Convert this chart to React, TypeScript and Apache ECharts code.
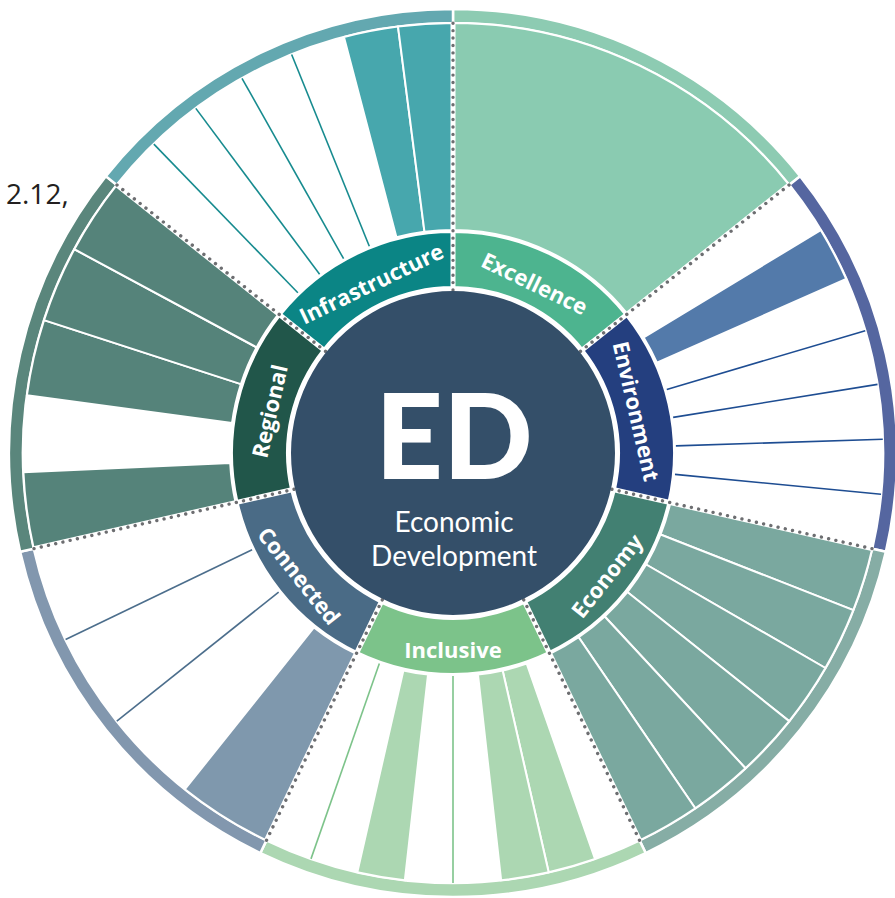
import React, { useEffect, useRef } from 'react';
import * as echarts from 'echarts';

// ---- data ----
const CATEGORIES = ['Excellence', 'Environment', 'Economy', 'Inclusive', 'Connected', 'Regional', 'Infrastructure'];
const EXCELLENCE_VALUES = [100];
const ENVIRONMENT_VALUES = [0, 100, 0, 0, 0, 0, 0];
const ECONOMY_VALUES = [100, 100, 100, 100, 100, 100];
const INCLUSIVE_VALUES = [0, 100, 100, 0, 0, 100, 0, 0];
const CONNECTED_VALUES = [100, 0, 0, 0];
const REGIONAL_VALUES = [100, 0, 100, 100, 100];
const INFRASTRUCTURE_VALUES = [0, 0, 0, 0, 0, 100, 100];
const CENTER_TITLE = 'ED';
const CENTER_SUBTITLE = ['Economic', 'Development'];
const STRAY_LABEL = '2.12,';

// ---- styles ----
const RING_COLORS = ['#4DB48F', '#243F7F', '#428072', '#7CC38A', '#4A6B86', '#21564A', '#0B8585'];
const BAR_COLORS = ['#8ACBB1', '#537AAA', '#7AA89F', '#ACD7B2', '#7F98AD', '#55837A', '#47A7AD'];
const BAND_COLORS = ['#8DCBB2', '#5566A0', '#86ADA5', '#ACD7B2', '#8297AE', '#5A867C', '#63A8B0'];
const LINE_COLORS = ['#4DB48F', '#1E4D92', '#428072', '#7DC38A', '#4C6E8C', '#21564A', '#178B8F'];
const CENTER_COLOR = '#344F69';
const DOT_COLOR = '#6D6E71';
const FONT = '"Open Sans", "Noto Sans", sans-serif';
const CENTER_FONT = 'Lato, "Open Sans", sans-serif';

const CX = 453;
const CY = 453;
const CENTER_R = 162;
const RING_R0 = 165.5;
const RING_R1 = 221.5;
const BAND_R0 = 430;
const BAND_R1 = 444;
const BOUND_R0 = 163;
const BOUND_R1 = 431;

const VALUES = [
  EXCELLENCE_VALUES,
  ENVIRONMENT_VALUES,
  ECONOMY_VALUES,
  INCLUSIVE_VALUES,
  CONNECTED_VALUES,
  REGIONAL_VALUES,
  INFRASTRUCTURE_VALUES,
];

const barData: number[][] = [];
const sepData: number[][] = [];
VALUES.forEach((vals, ci) => {
  const n = vals.length;
  vals.forEach((v, i) => {
    barData.push([v, ci + i / n, ci + (i + 1) / n, ci]);
    if (i > 0 && vals[i - 1] === 0 && v === 0) sepData.push([100, ci + i / n, ci]);
  });
});
const catData = CATEGORIES.map((_, i) => [i]);

function arcShape(params: any, api: any, r0v: number, r1v: number, a0: number, a1: number) {
  const cs = params.coordSys;
  const pi = api.coord([r0v, a0]);
  const ps = api.coord([r1v, a0]);
  const pe = api.coord([r1v, a1]);
  const r0 = Math.hypot(pi[0] - cs.cx, pi[1] - cs.cy);
  const r = Math.hypot(ps[0] - cs.cx, ps[1] - cs.cy);
  const s = Math.atan2(ps[1] - cs.cy, ps[0] - cs.cx);
  let e = Math.atan2(pe[1] - cs.cy, pe[0] - cs.cx);
  while (e <= s + 1e-9) e += Math.PI * 2;
  return { cx: cs.cx, cy: cs.cy, r0, r, startAngle: s, endAngle: e, clockwise: true };
}

const option: any = {
  animation: false,
  backgroundColor: '#ffffff',
  polar: [
    { center: [CX, CY], radius: [223, 430] },
    { center: [CX, CY], radius: [0, 444] },
  ],
  angleAxis: [
    { polarIndex: 0, type: 'value', min: 0, max: 7, startAngle: 90, clockwise: true, show: false },
    { polarIndex: 1, type: 'value', min: 0, max: 7, startAngle: 90, clockwise: true, show: false },
  ],
  radiusAxis: [
    { polarIndex: 0, type: 'value', min: 0, max: 100, show: false },
    { polarIndex: 1, type: 'value', min: 0, max: 444, show: false },
  ],
  series: [
    {
      type: 'custom',
      name: 'band',
      coordinateSystem: 'polar',
      polarIndex: 1,
      z: 1,
      silent: true,
      data: catData,
      renderItem: (params: any, api: any) => {
        const ci = api.value(0);
        return {
          type: 'sector',
          shape: arcShape(params, api, BAND_R0, BAND_R1, ci, ci + 1),
          style: { fill: BAND_COLORS[ci], stroke: '#ffffff', lineWidth: 2.5 },
        };
      },
    },
    {
      type: 'custom',
      name: 'ring',
      coordinateSystem: 'polar',
      polarIndex: 1,
      z: 2,
      silent: true,
      data: catData,
      renderItem: (params: any, api: any) => {
        const ci = api.value(0);
        const cs = params.coordSys;
        const probe = api.coord([193, ci + 0.5]);
        const dx = probe[0] - cs.cx;
        const dy = probe[1] - cs.cy;
        const top = dy < 0;
        const tr = top ? 189 : 196;
        const p = api.coord([tr, ci + 0.5]);
        const phi = Math.atan2(dy, dx);
        const psi = top ? phi + Math.PI / 2 : phi - Math.PI / 2;
        return {
          type: 'group',
          children: [
            {
              type: 'sector',
              shape: arcShape(params, api, RING_R0, RING_R1, ci, ci + 1),
              style: { fill: RING_COLORS[ci], stroke: '#ffffff', lineWidth: 3 },
            },
            {
              type: 'text',
              x: p[0],
              y: p[1],
              rotation: -psi,
              style: {
                text: CATEGORIES[ci],
                fill: '#ffffff',
                font: `bold 22px ${FONT}`,
                align: 'center',
                verticalAlign: 'middle',
              },
            },
          ],
        };
      },
    },
    {
      type: 'custom',
      name: 'separators',
      coordinateSystem: 'polar',
      polarIndex: 0,
      z: 3,
      silent: true,
      data: sepData,
      renderItem: (params: any, api: any) => {
        const a = api.value(1);
        const ci = api.value(2);
        const p0 = api.coord([0, a]);
        const p1 = api.coord([api.value(0), a]);
        return {
          type: 'line',
          shape: { x1: p0[0], y1: p0[1], x2: p1[0], y2: p1[1] },
          style: { stroke: LINE_COLORS[ci], lineWidth: 1.6 },
        };
      },
    },
    {
      type: 'custom',
      name: 'indicators',
      coordinateSystem: 'polar',
      polarIndex: 0,
      z: 4,
      silent: true,
      data: barData,
      renderItem: (params: any, api: any) => {
        const v = api.value(0);
        if (!v) return { type: 'group', children: [] };
        const a0 = api.value(1);
        const a1 = api.value(2);
        const ci = api.value(3);
        return {
          type: 'sector',
          shape: arcShape(params, api, 0, v, a0, a1),
          style: { fill: BAR_COLORS[ci], stroke: '#ffffff', lineWidth: 2 },
        };
      },
    },
    {
      type: 'custom',
      name: 'boundaries',
      coordinateSystem: 'polar',
      polarIndex: 1,
      z: 5,
      silent: true,
      data: catData,
      renderItem: (params: any, api: any) => {
        const ci = api.value(0);
        const p0 = api.coord([BOUND_R0, ci]);
        const p1 = api.coord([BOUND_R1, ci]);
        const shape = { x1: p0[0], y1: p0[1], x2: p1[0], y2: p1[1] };
        return {
          type: 'group',
          children: [
            { type: 'line', shape, style: { stroke: '#ffffff', lineWidth: 5 } },
            {
              type: 'line',
              shape,
              style: { stroke: DOT_COLOR, lineWidth: 3.4, lineDash: [0.01, 7.4], lineCap: 'round' },
            },
          ],
        };
      },
    },
  ],
  graphic: [
    {
      type: 'circle',
      z: 10,
      silent: true,
      shape: { cx: CX, cy: CY, r: CENTER_R },
      style: { fill: CENTER_COLOR },
    },
    {
      type: 'text',
      z: 11,
      x: 454,
      y: 433,
      silent: true,
      style: {
        text: CENTER_TITLE,
        fill: '#ffffff',
        font: `900 118px ${CENTER_FONT}`,
        align: 'center',
        verticalAlign: 'middle',
      },
    },
    {
      type: 'text',
      z: 11,
      x: 454,
      y: 521,
      silent: true,
      style: {
        text: CENTER_SUBTITLE[0],
        fill: '#ffffff',
        font: `28px ${CENTER_FONT}`,
        align: 'center',
        verticalAlign: 'middle',
      },
    },
    {
      type: 'text',
      z: 11,
      x: 454,
      y: 555,
      silent: true,
      style: {
        text: CENTER_SUBTITLE[1],
        fill: '#ffffff',
        font: `28px ${CENTER_FONT}`,
        align: 'center',
        verticalAlign: 'middle',
      },
    },
    {
      type: 'text',
      z: 11,
      x: 6,
      y: 193,
      silent: true,
      style: {
        text: STRAY_LABEL,
        fill: '#231F20',
        font: `28px ${FONT}`,
        align: 'left',
        verticalAlign: 'middle',
      },
    },
  ],
};

export default function App() {
  const ref = useRef<HTMLDivElement>(null);
  useEffect(() => {
    const chart = echarts.init(ref.current as HTMLDivElement, null, { renderer: 'svg' });
    chart.setOption(option);
    return () => chart.dispose();
  }, []);
  return (
    <div
      ref={ref}
      style={{ position: 'absolute', left: 0, top: 0, width: 895, height: 898 }}
    />
  );
}
